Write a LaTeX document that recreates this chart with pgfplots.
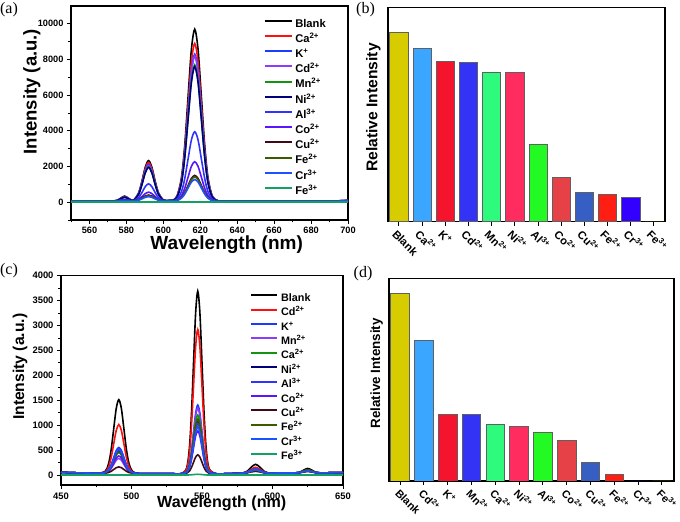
\documentclass[border=0pt]{standalone}
\usepackage{fontspec}
\setmainfont{Liberation Sans}
\newfontfamily\seriffont{Liberation Serif}
\usepackage{pgfplots}
\usepackage{pgfplotstable}
\pgfplotsset{compat=1.18}

% line colours
\definecolor{lRed}{HTML}{FF1010}
\definecolor{lBlue}{HTML}{1A3CFF}
\definecolor{lViolet}{HTML}{8C3CFF}
\definecolor{lGreen}{HTML}{129412}
\definecolor{lNavy}{HTML}{00007F}
\definecolor{lAl}{HTML}{3232FF}
\definecolor{lCo}{HTML}{5A14FF}
\definecolor{lCu}{HTML}{400A14}
\definecolor{lFe}{HTML}{3C5A00}
\definecolor{lCr}{HTML}{1E50FF}
\definecolor{lFeIII}{HTML}{14A064}
% bar colours
\definecolor{bYel}{HTML}{D6CC00}
\definecolor{bSky}{HTML}{3AA6FF}
\definecolor{bRed}{HTML}{F5142D}
\definecolor{bBlue}{HTML}{3333F5}
\definecolor{bSpring}{HTML}{2EFA7D}
\definecolor{bPink}{HTML}{FF2D5F}
\definecolor{bGreen}{HTML}{23FA23}
\definecolor{bSalmon}{HTML}{E64146}
\definecolor{bSteel}{HTML}{375FC3}
\definecolor{bFire}{HTML}{FF1E14}
\definecolor{bIndigo}{HTML}{3200FF}
\definecolor{bEdge}{HTML}{606060}

\pgfplotstableread{
x     bl   ca   k    cd   mn   ni   al   co   cu   fe   cr   fe3
550   60   60   60   60   60   60   60   60   60   60   60   0
560   55   55   55   55   55   55   55   55   55   55   55   0
570   55   55   55   55   55   55   55   55   55   55   55   0
575   98   94   92   91   90   90   74   67   64   63   63   0
577   230  212  206  200  194  194  121  90   78   75   72   0
579   340  310  300  290  280  280  160  110  90   85   80   0
581   230  212  206  200  194  194  121  90   78   75   72   0
583   98   94   92   91   90   90   74   67   64   63   63   0
584.2 137  134  130  128  125  124  93   77   72   71   69   0
586.6 509  490  468  456  440  434  252  159  127  121  110  0
588.4 1165 1117 1063 1034 995  980  532  304  226  211  182  0
590.2 1955 1872 1780 1730 1663 1638 870  478  344  319  269  0
592   2330 2230 2120 2060 1980 1950 1030 560  400  370  310  0
593.8 1955 1872 1780 1730 1663 1638 870  478  344  319  269  0
595.6 1165 1117 1063 1034 995  980  532  304  226  211  182  0
597.4 509  490  468  456  440  434  252  159  127  121  110  0
599.8 137  134  130  128  125  124  93   77   72   71   69   0
601.5 85   82   82   80   80   80   68   64   62   62   62   0
603   95   92   92   90   90   90   72   66   64   63   63   0
605   100  95   95   94   94   94   74   66   64   63   63   0
607.4 340  316  299  296  282  279  173  124  102  99   95   0
609.8 1361 1253 1172 1159 1091 1078 585  358  254  244  223  0
611.6 3193 2933 2738 2706 2543 2511 1324 778  528  502  453  0
613.4 5911 5426 5062 5001 4697 4637 2421 1401 934  886  794  0
615.2 8562 7857 7328 7239 6798 6710 3491 2009 1330 1260 1127 0
617   9700 8900 8300 8200 7700 7600 3950 2270 1500 1420 1270 0
618.8 8562 7857 7328 7239 6798 6710 3491 2009 1330 1260 1127 0
620.6 5911 5426 5062 5001 4697 4637 2421 1401 934  886  794  0
622.4 3193 2933 2738 2706 2543 2511 1324 778  528  502  453  0
624.2 1361 1253 1172 1159 1091 1078 585  358  254  244  223  0
626.6 330  306  289  286  272  269  163  114  92   89   85   0
630   60   60   60   60   60   60   55   52   51   51   51   0
636   50   50   50   50   50   50   50   50   50   50   50   0
650   50   50   50   50   50   50   50   50   50   50   50   0
670   50   50   50   50   50   50   50   50   50   50   50   0
690   60   60   60   60   60   60   58   58   56   56   56   0
700   100  95   95   95   90   90   80   75   70   70   70   0
}\tabA

\pgfplotstableread{
x     bl   cd   k    mn   ca   ni   al   co   cu   fe   cr   fe3
450   55   55   55   55   55   55   55   55   55   55   55   0
460   45   45   45   45   45   45   45   45   45   45   45   0
470   40   40   40   40   40   40   40   40   40   40   40   0
476   35   35   35   35   35   35   35   35   35   35   35   0
481.4 76   61   48   42   45   46   48   43   37   45   47   0
483.8 233  165  103  74   90   94   101  80   51   91   98   0
485.6 514  352  202  131  170  179  196  147  75   173  189  0
487.4 931  628  349  215  288  306  337  245  112  294  324  0
489.2 1338 897  492  298  403  430  474  342  148  412  456  0
491   1513 1013 553  333  453  483  533  383  163  463  513  0
492.8 1338 897  492  298  403  430  474  342  148  412  456  0
494.6 931  628  349  215  288  306  337  245  112  294  324  0
496.4 514  352  202  131  170  179  196  147  75   173  189  0
498.2 233  165  103  74   90   94   101  80   51   91   98   0
500.6 76   61   48   42   45   46   48   43   37   45   47   0
505   30   30   30   30   30   30   30   30   30   30   30   0
512   28   28   28   28   28   28   28   28   28   28   28   0
520   25   25   25   25   25   25   25   25   25   25   25   0
530   25   25   25   25   25   25   25   25   25   25   25   0
535   25   25   25   25   25   25   25   25   25   25   25   0
539   131  109  65   63   59   56   54   50   36   57   52   0
541   520  416  211  203  184  168  161  141  76   174  152  2
542.5 1216 966  474  454  409  370  353  305  149  383  331  5
544   2250 1782 863  826  741  668  638  547  256  693  596  9
545.5 3258 2578 1242 1189 1066 960  916  784  360  995  854  13
547   3690 2920 1405 1345 1205 1085 1035 885  405  1125 965  15
548.5 3258 2578 1242 1189 1066 960  916  784  360  995  854  13
550   2250 1782 863  826  741  668  638  547  256  693  596  9
551.5 1216 966  474  454  409  370  353  305  149  383  331  5
553   520  416  211  203  184  168  161  141  76   174  152  2
555   131  109  65   63   59   56   54   50   36   57   52   0
560   25   25   25   25   25   25   25   25   25   25   25   0
566   25   25   25   25   25   25   25   25   25   25   25   0
572   30   30   30   30   30   30   30   30   30   30   30   0
579   42   39   38   38   38   38   38   37   36   37   38   0
582   76   63   56   51   53   51   53   49   44   49   51   0
585   160  118  97   84   90   84   90   77   63   77   84   0
588   215  155  125  105  115  105  115  95   75   95   105  0
591   160  118  97   84   90   84   90   77   63   77   84   0
594   76   63   56   51   53   51   53   49   44   49   51   0
597   42   39   38   38   38   38   38   37   36   37   38   0
603   40   40   40   40   40   40   40   40   40   40   40   0
610   40   40   40   40   40   40   40   40   40   40   40   0
616   43   43   43   42   43   43   42   42   42   43   42   0
619   54   50   49   47   50   49   47   47   46   50   47   0
622   97   78   72   66   78   72   66   66   60   78   66   0
625   132  102  92   82   102  92   82   82   72   102  82   0
628   97   78   72   66   78   72   66   66   60   78   66   0
631   54   50   49   47   50   49   47   47   46   50   47   0
634   43   43   43   42   43   43   42   42   42   43   42   0
640   45   45   45   45   45   45   45   45   45   45   45   0
650   50   50   50   50   50   50   50   50   50   50   50   0
}\tabC

\pgfplotsset{
  frame/.style={scale only axis, anchor=south west,
    axis line style={line width=1.1pt},
    tick align=outside, major tick length=4pt, minor tick length=2.5pt,
    every tick/.style={black, line width=0.9pt},
    /pgf/number format/assume math mode=true,
    /pgf/number format/1000 sep={}, scaled ticks=false},
  spec/.style={frame, tick pos=left,
    legend cell align=left,
    legend image code/.code={\draw[##1, line width=2pt] (0pt,3.3pt) -- (27pt,3.3pt);},
    every axis plot/.append style={smooth, line width=1.6pt}},
  bars/.style={frame, xtick pos=left, ytick=\empty, xtick={0,...,11},
    every axis plot/.append style={ybar, bar shift=0pt, draw=bEdge, line width=0.6pt}},
}

\begin{document}
\begin{tikzpicture}
\path[use as bounding box] (0pt,0pt) rectangle (680pt,522pt);

% (a)
\begin{axis}[spec, at={(71pt,302pt)}, width=277pt, height=214pt,
  xmin=550, xmax=700, ymin=-1000, ymax=11000,
  xtick={560,580,...,700}, minor xtick={550,570,...,690},
  ytick={0,2000,...,10000}, minor ytick={-1000,1000,...,9000},
  ticklabel style={font=\fontsize{9.2}{10}\selectfont\bfseries},
  xlabel={Wavelength (nm)}, ylabel={Intensity (a.u.)},
  every axis x label/.style={at={(axis description cs:0.562,-0.117)}, anchor=center, font=\fontsize{19}{21}\selectfont\bfseries},
  every axis y label/.style={at={(axis description cs:-0.141,0.6)}, rotate=90, anchor=center, font=\fontsize{18.5}{20}\selectfont\bfseries},
  legend style={draw=none, fill=none, inner sep=0pt, at={(axis description cs:0.697,0.942)}, anchor=north west,
    font=\fontsize{11.2}{12}\selectfont\bfseries, row sep=4.2pt,
    nodes={inner ysep=0pt, inner xsep=2pt, text height=8.5pt, text depth=2.5pt}},
  legend entries={Blank, Ca\textsuperscript{2+}, K\textsuperscript{+}, Cd\textsuperscript{2+}, Mn\textsuperscript{2+}, Ni\textsuperscript{2+}, Al\textsuperscript{3+}, Co\textsuperscript{2+}, Cu\textsuperscript{2+}, Fe\textsuperscript{2+}, Cr\textsuperscript{3+}, Fe\textsuperscript{3+}},
]
\addplot[black]   table[x=x, y=bl]  {\tabA};
\addplot[lRed]    table[x=x, y=ca]  {\tabA};
\addplot[lBlue]   table[x=x, y=k]   {\tabA};
\addplot[lViolet] table[x=x, y=cd]  {\tabA};
\addplot[lGreen]  table[x=x, y=mn]  {\tabA};
\addplot[lNavy]   table[x=x, y=ni]  {\tabA};
\addplot[lAl]     table[x=x, y=al]  {\tabA};
\addplot[lCo]     table[x=x, y=co]  {\tabA};
\addplot[lCu]     table[x=x, y=cu]  {\tabA};
\addplot[lFe]     table[x=x, y=fe]  {\tabA};
\addplot[lCr]     table[x=x, y=cr]  {\tabA};
\addplot[lFeIII]  table[x=x, y=fe3] {\tabA};
\end{axis}

% (b)
\begin{axis}[bars, at={(388pt,300.3pt)}, width=277pt, height=214.4pt,
  xmin=-0.47, xmax=11.48, ymin=0, ymax=11000,
  xticklabels={Blank, Ca\textsuperscript{2+}, K\textsuperscript{+}, Cd\textsuperscript{2+}, Mn\textsuperscript{2+}, Ni\textsuperscript{2+}, Al\textsuperscript{3+}, Co\textsuperscript{2+}, Cu\textsuperscript{2+}, Fe\textsuperscript{2+}, Cr\textsuperscript{3+}, Fe\textsuperscript{3+}},
  xticklabel style={font=\fontsize{11.2}{12}\selectfont\bfseries, xshift=-7pt, yshift=-4pt, rotate=-45, anchor=west},
  ylabel={Relative Intensity},
  every axis y label/.style={at={(axis description cs:-0.053,0.533)}, rotate=90, anchor=center, font=\fontsize{15.6}{17}\selectfont\bfseries},
]
\addplot[fill=bYel,    bar width=18.3pt] coordinates {(0,9700)};
\addplot[fill=bSky,    bar width=18.3pt] coordinates {(1,8880)};
\addplot[fill=bRed,    bar width=18.3pt] coordinates {(2,8245)};
\addplot[fill=bBlue,   bar width=18.3pt] coordinates {(3,8194)};
\addplot[fill=bSpring, bar width=18.3pt] coordinates {(4,7650)};
\addplot[fill=bPink,   bar width=18.3pt] coordinates {(5,7650)};
\addplot[fill=bGreen,  bar width=18.3pt] coordinates {(6,3964)};
\addplot[fill=bSalmon, bar width=18.3pt] coordinates {(7,2274)};
\addplot[fill=bSteel,  bar width=18.3pt] coordinates {(8,1506)};
\addplot[fill=bFire,   bar width=18.3pt] coordinates {(9,1403)};
\addplot[fill=bIndigo, bar width=18.3pt] coordinates {(10,1265)};
\addplot[fill=bYel,    bar width=18.3pt, draw=none] coordinates {(11,0)};
\end{axis}

% (c)
\begin{axis}[spec, at={(61pt,37pt)}, width=282pt, height=209.3pt,
  xmin=450, xmax=650, ymin=-200, ymax=4000,
  xtick={450,500,...,650}, minor xtick={475,525,...,625},
  ytick={0,500,...,4000}, minor ytick={250,750,...,3750},
  ticklabel style={font=\fontsize{9.4}{10}\selectfont\bfseries},
  xlabel={Wavelength (nm)}, ylabel={Intensity (a.u.)},
  every axis x label/.style={at={(axis description cs:0.570,-0.0875)}, anchor=center, font=\fontsize{16.1}{18}\selectfont\bfseries},
  every axis y label/.style={at={(axis description cs:-0.145,0.565)}, rotate=90, anchor=center, font=\fontsize{15.7}{17}\selectfont\bfseries},
  legend style={draw=none, fill=none, inner sep=0pt, at={(axis description cs:0.670,0.918)}, anchor=north west,
    font=\fontsize{10.8}{12}\selectfont\bfseries, row sep=3.6pt,
    nodes={inner ysep=0pt, inner xsep=3pt, text height=8.3pt, text depth=2.5pt}},
  legend image code/.code={\draw[#1, line width=2pt] (0pt,3.2pt) -- (26pt,3.2pt);},
  legend entries={Blank, Cd\textsuperscript{2+}, K\textsuperscript{+}, Mn\textsuperscript{2+}, Ca\textsuperscript{2+}, Ni\textsuperscript{2+}, Al\textsuperscript{3+}, Co\textsuperscript{2+}, Cu\textsuperscript{2+}, Fe\textsuperscript{2+}, Cr\textsuperscript{3+}, Fe\textsuperscript{3+}},
]
\addplot[black]   table[x=x, y=bl]  {\tabC};
\addplot[lRed]    table[x=x, y=cd]  {\tabC};
\addplot[lBlue]   table[x=x, y=k]   {\tabC};
\addplot[lViolet] table[x=x, y=mn]  {\tabC};
\addplot[lGreen]  table[x=x, y=ca]  {\tabC};
\addplot[lNavy]   table[x=x, y=ni]  {\tabC};
\addplot[lAl]     table[x=x, y=al]  {\tabC};
\addplot[lCo]     table[x=x, y=co]  {\tabC};
\addplot[lCu]     table[x=x, y=cu]  {\tabC};
\addplot[lFe]     table[x=x, y=fe]  {\tabC};
\addplot[lCr]     table[x=x, y=cr]  {\tabC};
\addplot[lFeIII]  table[x=x, y=fe3] {\tabC};
\end{axis}

% (d)
\begin{axis}[bars, at={(389pt,41pt)}, width=285pt, height=202.7pt,
  xmin=-0.46, xmax=11.51, ymin=0, ymax=4000,
  xticklabels={Blank, Cd\textsuperscript{2+}, K\textsuperscript{+}, Mn\textsuperscript{2+}, Ca\textsuperscript{2+}, Ni\textsuperscript{2+}, Al\textsuperscript{3+}, Co\textsuperscript{2+}, Cu\textsuperscript{2+}, Fe\textsuperscript{2+}, Cr\textsuperscript{3+}, Fe\textsuperscript{3+}},
  xticklabel style={font=\fontsize{10.8}{12}\selectfont\bfseries, xshift=-5pt, yshift=-4pt, rotate=-45, anchor=west},
  ylabel={Relative Intensity},
  every axis y label/.style={at={(axis description cs:-0.043,0.531)}, rotate=90, anchor=center, font=\fontsize{13.4}{15}\selectfont\bfseries},
]
\addplot[fill=bYel,    bar width=18.7pt] coordinates {(0,3700)};
\addplot[fill=bSky,    bar width=18.7pt] coordinates {(1,2770)};
\addplot[fill=bRed,    bar width=18.7pt] coordinates {(2,1308)};
\addplot[fill=bBlue,   bar width=18.7pt] coordinates {(3,1308)};
\addplot[fill=bSpring, bar width=18.7pt] coordinates {(4,1124)};
\addplot[fill=bPink,   bar width=18.7pt] coordinates {(5,1084)};
\addplot[fill=bGreen,  bar width=18.7pt] coordinates {(6,965)};
\addplot[fill=bSalmon, bar width=18.7pt] coordinates {(7,807)};
\addplot[fill=bSteel,  bar width=18.7pt] coordinates {(8,371)};
\addplot[fill=bFire,   bar width=18.7pt] coordinates {(9,139)};
\addplot[fill=bIndigo, bar width=18.7pt, draw=none] coordinates {(10,0)};
\addplot[fill=bYel,    bar width=18.7pt, draw=none] coordinates {(11,0)};
\end{axis}

\node[font=\seriffont\fontsize{16}{18}\selectfont] at (9pt,512pt) {(a)};
\node[font=\seriffont\fontsize{16}{18}\selectfont] at (365.5pt,512pt) {(b)};
\node[font=\seriffont\fontsize{16}{18}\selectfont] at (9pt,251pt) {(c)};
\node[font=\seriffont\fontsize{16}{18}\selectfont] at (363pt,248pt) {(d)};
\end{tikzpicture}
\end{document}
